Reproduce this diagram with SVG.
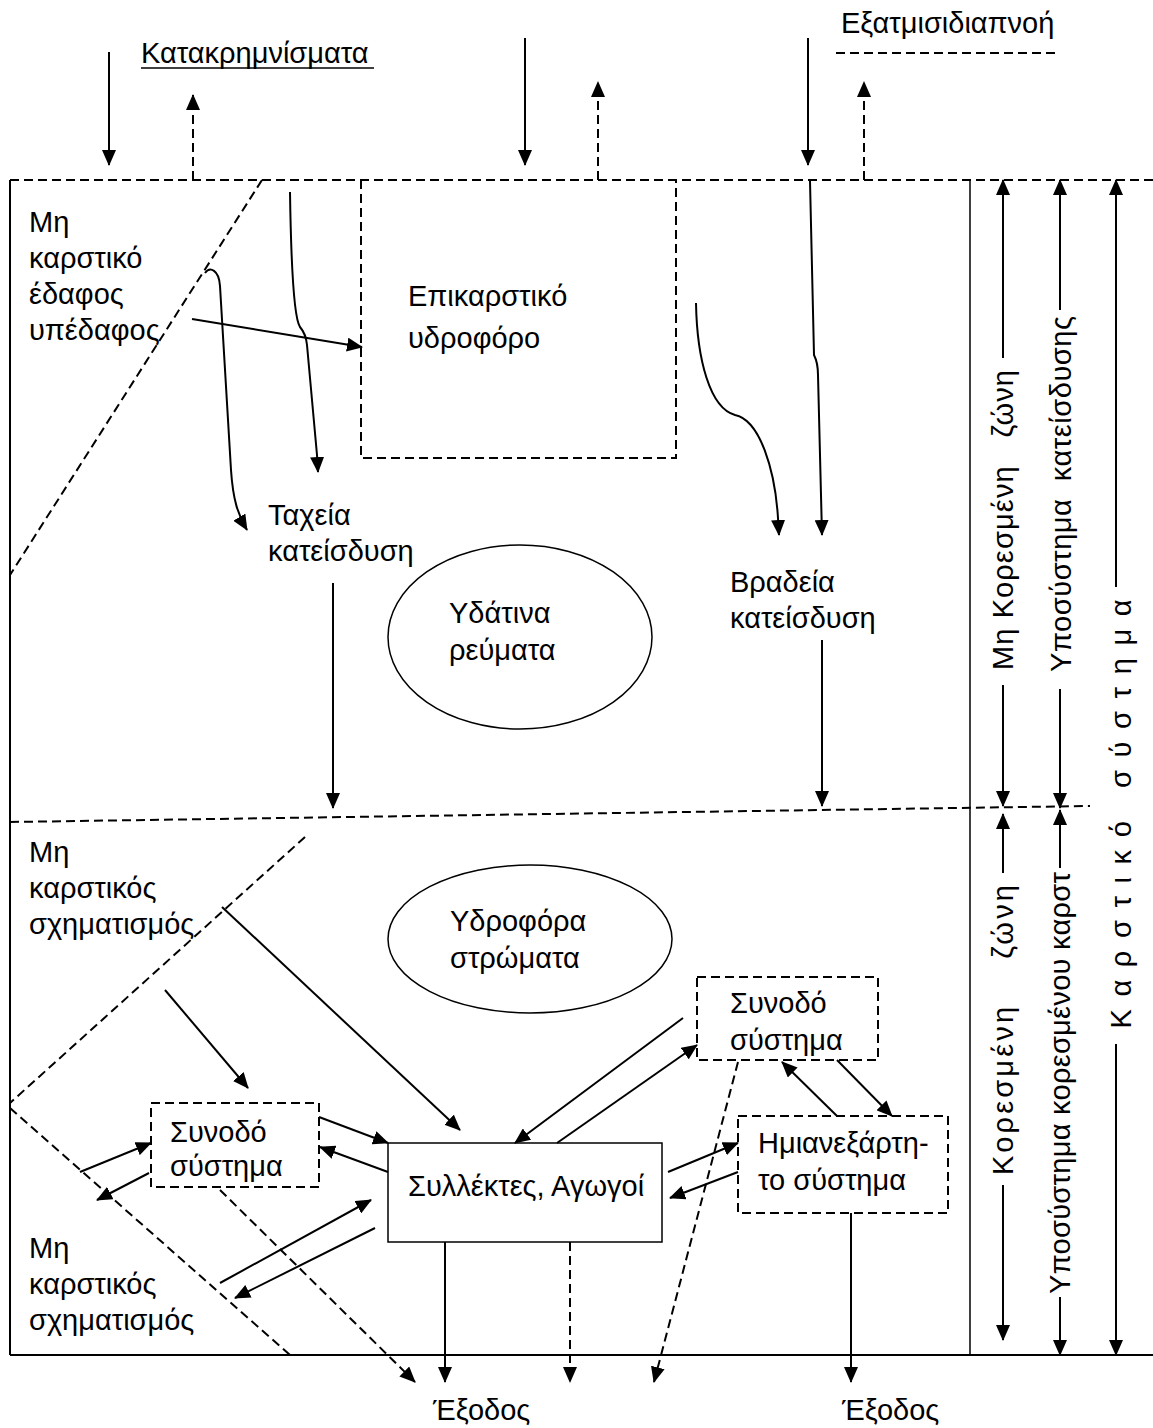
<svg xmlns="http://www.w3.org/2000/svg" width="1153" height="1428" viewBox="0 0 1153 1428">
<style>
text{font-family:"Liberation Sans",Arial,sans-serif;font-size:29px;fill:#000}
.s{stroke:#000;stroke-width:2;fill:none}
.t{stroke:#000;stroke-width:1.5;fill:none}
.d{stroke:#000;stroke-width:2;fill:none;stroke-dasharray:9 5}
.a{marker-end:url(#ah)}
.r{text-anchor:middle}
</style>
<defs>
<marker id="ah" markerUnits="userSpaceOnUse" markerWidth="16" markerHeight="14" refX="15" refY="7" orient="auto"><path d="M0,0L16,7L0,14z" fill="#000"/></marker>
</defs>
<rect width="1153" height="1428" fill="#fff"/>

<g id="frame">
<line class="d" x1="10" y1="180" x2="1153" y2="180"/>
<line class="s" x1="10" y1="180" x2="10" y2="1355"/>
<line class="s" x1="10" y1="1355" x2="1153" y2="1355" stroke-width="2.5"/>
<line class="t" x1="970" y1="180" x2="970" y2="1355"/>
<line class="d" x1="10" y1="822" x2="1090" y2="806"/>
<line class="d" x1="262" y1="180" x2="10" y2="575"/>
<line class="d" x1="305" y1="837" x2="10" y2="1103"/>
<line class="d" x1="10" y1="1108" x2="290" y2="1355"/>
<line class="d" x1="836" y1="53" x2="1055" y2="53"/>
</g>

<g id="precipitation">
<text x="141" y="63">Κατακρημνίσματα</text>
<line x1="141" y1="68" x2="374" y2="68" stroke="#000" stroke-width="1.5"/>
</g>
<g id="evapotranspiration"><text x="841" y="33">Εξατμισιδιαπνοή</text></g>

<g id="epikarst">
<path class="d" d="M361,180V458H676V180"/>
<text x="408" y="306" font-size="37">Επικαρστικό</text>
<text x="408" y="348" font-size="37">υδροφόρο</text>
</g>

<g id="soil-label">
<text x="29" y="232">Μη</text>
<text x="29" y="268">καρστικό</text>
<text x="29" y="304">έδαφος</text>
<text x="29" y="340">υπέδαφος</text>
</g>

<g id="fast-infiltration">
<text x="268" y="525">Ταχεία</text>
<text x="268" y="561">κατείσδυση</text>
</g>
<g id="slow-infiltration">
<text x="730" y="592">Βραδεία</text>
<text x="730" y="628">κατείσδυση</text>
</g>

<g id="streams">
<ellipse class="t" cx="520" cy="637" rx="132" ry="92"/>
<text x="449" y="623">Υδάτινα</text>
<text x="449" y="660">ρεύματα</text>
</g>

<g id="aquifers">
<ellipse class="t" cx="530" cy="939" rx="142" ry="74"/>
<text x="450" y="931">Υδροφόρα</text>
<text x="450" y="968">στρώματα</text>
</g>

<g id="formation-upper">
<text x="29" y="862">Μη</text>
<text x="29" y="898">καρστικός</text>
<text x="29" y="934">σχηματισμός</text>
</g>
<g id="formation-lower">
<text x="29" y="1258">Μη</text>
<text x="29" y="1294">καρστικός</text>
<text x="29" y="1330">σχηματισμός</text>
</g>

<g id="annex-left">
<rect class="d" x="151" y="1103" width="168" height="84"/>
<text x="170" y="1142">Συνοδό</text>
<text x="170" y="1176">σύστημα</text>
</g>
<g id="collectors">
<rect class="t" x="388" y="1143" width="274" height="99"/>
<text x="408" y="1196">Συλλέκτες, Αγωγοί</text>
</g>
<g id="annex-right">
<rect class="d" x="697" y="977" width="181" height="83"/>
<text x="730" y="1013">Συνοδό</text>
<text x="730" y="1050">σύστημα</text>
</g>
<g id="semi-independent">
<rect class="d" x="738" y="1116" width="210" height="97"/>
<text x="758" y="1153">Ημιανεξάρτη-</text>
<text x="758" y="1190">το σύστημα</text>
</g>

<g id="outlets">
<text x="433" y="1420">Έξοδος</text>
<text x="842" y="1420">Έξοδος</text>
</g>

<g id="zone-labels">
<text class="r" transform="translate(1013,520) rotate(-90)" textLength="300" lengthAdjust="spacing" xml:space="preserve">Μη Κορεσμένη   ζώνη</text>
<text class="r" transform="translate(1071,494) rotate(-90)" textLength="356" lengthAdjust="spacing" xml:space="preserve">Υποσύστημα  κατείσδυσης</text>
<text class="r" transform="translate(1013,1030) rotate(-90)" textLength="290" lengthAdjust="spacing" xml:space="preserve">Κορεσμένη    ζώνη</text>
<text class="r" transform="translate(1070,1083) rotate(-90)" textLength="422" lengthAdjust="spacing">Υποσύστημα κορεσμένου καρστ</text>
<text class="r" transform="translate(1131,814) rotate(-90)" font-size="32" textLength="429" lengthAdjust="spacing" xml:space="preserve">Κ α ρ σ τ ι κ ό   σ ύ σ τ η μ α</text>
</g>

<g id="connectors">
<line class="s a" x1="109" y1="52" x2="109" y2="165"/>
<line class="d a" x1="193" y1="180" x2="193" y2="95"/>
<line class="s a" x1="525" y1="38" x2="525" y2="165"/>
<line class="d a" x1="598" y1="180" x2="598" y2="82"/>
<line class="s a" x1="808" y1="38" x2="808" y2="165"/>
<line class="d a" x1="864" y1="180" x2="864" y2="82"/>

<line class="s a" x1="192" y1="319" x2="362" y2="347"/>
<path class="s a" d="M290,192C291,260 294,318 300,327Q306,334 307,345L317,455L318,472"/>
<path class="s a" d="M205,273C210,266 219,270 220,286L231,470C233,500 238,515 247,530"/>
<path class="s a" d="M696,303C697,360 710,408 735,415C760,420 775,470 778,518L779,535"/>
<path class="s a" d="M810,181L814,355Q818,363 818,375L822,535"/>
<line class="s a" x1="333" y1="583" x2="333" y2="808"/>
<line class="s a" x1="822" y1="640" x2="822" y2="806"/>

<line class="s a" x1="222" y1="907" x2="460" y2="1130"/>
<line class="s a" x1="165" y1="990" x2="248" y2="1088"/>
<line class="s a" x1="319" y1="1117" x2="388" y2="1143"/>
<line class="s a" x1="388" y1="1172" x2="320" y2="1147"/>
<line class="s a" x1="80" y1="1172" x2="151" y2="1143"/>
<line class="s a" x1="149" y1="1173" x2="97" y2="1200"/>
<line class="s a" x1="220" y1="1283" x2="371" y2="1200"/>
<line class="s a" x1="375" y1="1228" x2="235" y2="1298"/>
<line class="s a" x1="683" y1="1018" x2="515" y2="1143"/>
<line class="s a" x1="557" y1="1143" x2="697" y2="1045"/>
<line class="s a" x1="837" y1="1116" x2="782" y2="1062"/>
<line class="s a" x1="837" y1="1060" x2="892" y2="1116"/>
<line class="s a" x1="668" y1="1172" x2="738" y2="1143"/>
<line class="s a" x1="738" y1="1172" x2="670" y2="1198"/>

<line class="d a" x1="220" y1="1190" x2="415" y2="1382"/>
<line class="s a" x1="445" y1="1242" x2="445" y2="1382"/>
<line class="d a" x1="570" y1="1242" x2="570" y2="1382"/>
<line class="d a" x1="738" y1="1062" x2="654" y2="1382"/>
<line class="s a" x1="851" y1="1213" x2="851" y2="1382"/>

<line class="s a" x1="1003" y1="358" x2="1003" y2="180"/>
<line class="s a" x1="1003" y1="685" x2="1003" y2="806"/>
<line class="s a" x1="1003" y1="873" x2="1003" y2="814"/>
<line class="s a" x1="1003" y1="1185" x2="1003" y2="1340"/>
<line class="s a" x1="1060" y1="310" x2="1060" y2="180"/>
<line class="s a" x1="1060" y1="689" x2="1060" y2="808"/>
<line class="s a" x1="1060" y1="868" x2="1060" y2="810"/>
<line class="s a" x1="1060" y1="1297" x2="1060" y2="1355"/>
<line class="s a" x1="1116" y1="587" x2="1116" y2="180"/>
<line class="s a" x1="1116" y1="1044" x2="1116" y2="1355"/>
</g>
</svg>
